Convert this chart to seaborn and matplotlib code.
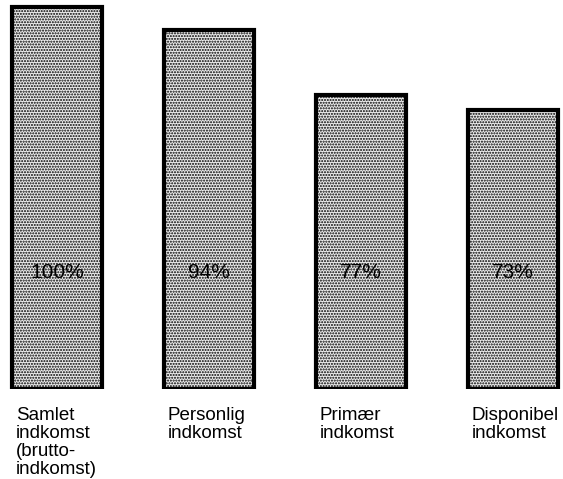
import numpy as np
import matplotlib
matplotlib.use("Agg")
import matplotlib.pyplot as plt
import seaborn as sns

# Indkomstbegreber i procent af samlet indkomst
categories = ["Samlet\nindkomst\n(brutto-\nindkomst)", "Personlig\nindkomst",
              "Primær\nindkomst", "Disponibel\nindkomst"]
values = [100, 94, 77, 73]
value_labels = ["100%", "94%", "77%", "73%"]

sns.set_style("white")
plt.rcParams["font.family"] = ["Liberation Sans", "DejaVu Sans"]
plt.rcParams["hatch.color"] = "#7a7a7a"
plt.rcParams["hatch.linewidth"] = 1.0

fig = plt.figure(figsize=(5.63, 4.79), dpi=100)
ax = fig.add_axes([0, 90 / 479, 1, 389 / 479])

bar_w = 0.59
sns.barplot(x=categories, y=values, ax=ax, color="#ececec", saturation=1,
            width=bar_w, edgecolor="black", linewidth=3, hatch="......")

ax.set_xlim(-0.375, 3.33)
ax.set_ylim(0, 101.8)

# procenttal midt i søjlerne, i samme højde
for i, txt in enumerate(value_labels):
    ax.text(i, 30.6, txt, ha="center", va="center", fontsize=15, color="black")

ax.set_xticks(np.arange(len(categories)) - bar_w / 2 + 0.025)
ax.set_xticklabels(categories, ha="left", va="top", fontsize=13.5,
                   linespacing=1.07, color="black")
ax.tick_params(axis="x", length=0, pad=13)
ax.set_yticks([])
ax.set_xlabel("")
ax.set_ylabel("")
for s in ax.spines.values():
    s.set_visible(False)

plt.savefig("out.png", dpi=100)
